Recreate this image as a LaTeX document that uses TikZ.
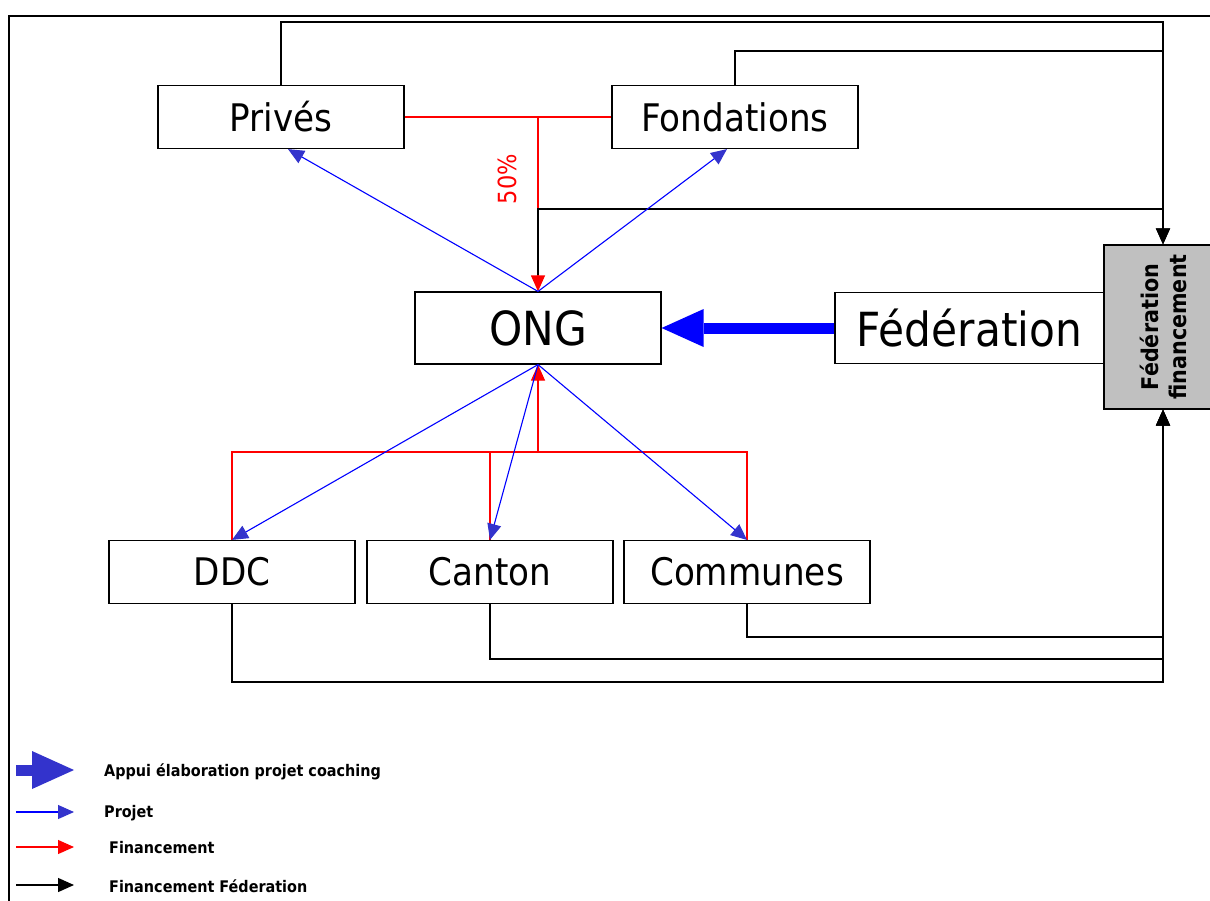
\documentclass[tikz,border=0pt]{standalone}
\usepackage{fontspec}
\setmainfont{DejaVu Sans}[FakeStretch=0.9]
\usetikzlibrary{arrows.meta}
\definecolor{bleutete}{RGB}{51,51,204}
\definecolor{grisboite}{RGB}{192,192,192}

\begin{document}
\begin{tikzpicture}[x=1pt,y=-1pt,
	acteur/.style={draw, line width=1.2pt, fill=white, minimum width=246pt, minimum height=63pt, inner sep=0pt, font=\fontsize{38}{40}\selectfont},
	grand/.style={font=\fontsize{47}{50}\selectfont},
	projet/.style={blue, line width=1.1pt, -{Triangle[length=16pt,width=14pt,color=bleutete]}},
	pointe/.style={-{Triangle[length=16pt,width=14pt]}},
	finance/.style={red, line width=1.2pt},
	finfed/.style={black, line width=1.3pt},
	financefl/.style={finance, pointe},
	finfedfl/.style={finfed, pointe},
	appui/.style={line width=11pt, -{Triangle[length=42pt,width=38pt,line width=0pt]}},
	legende/.style={anchor=west, inner sep=0pt, font=\fontsize{16}{18}\selectfont\bfseries}]
	\clip (0,0) rectangle (1210,900);
	\draw[line width=1.5pt] (9,920) -- (9,16) -- (1230,16);

	\node[acteur] (prives) at (281,117) {Privés};
	\node[acteur] (fondations) at (735,117) {Fondations};
	\node[acteur, grand, minimum height=72pt] (ong) at (538,328) {ONG};
	\node[acteur, grand, minimum width=269pt, minimum height=71pt] (federation) at (969.5,328) {Fédération};
	\node[draw, line width=1.2pt, fill=grisboite, minimum width=118pt, minimum height=164pt] (fedfin) at (1163,327) {};
	\node[rotate=90, align=center, inner sep=0pt, font=\fontsize{23}{28}\selectfont\bfseries] at (fedfin.center) {Fédération\\financement};
	\node[acteur] (ddc) at (232,572) {DDC};
	\node[acteur] (canton) at (490,572) {Canton};
	\node[acteur] (communes) at (747,572) {Communes};

	% financement federation
	\draw[finfedfl] (prives.north) -- (prives.north |- 0,22) -| (fedfin.north);
	\draw[finfedfl] (fondations.north) -- (fondations.north |- 0,51) -| (fedfin.north);
	\draw[finfedfl] (communes.south) -- (communes.south |- 0,637) -| (fedfin.south);
	\draw[finfedfl] (canton.south) -- (canton.south |- 0,659) -| (fedfin.south);
	\draw[finfedfl] (ddc.south) -- (ddc.south |- 0,682) -| (fedfin.south);

	% financement
	\draw[finance] (prives.east) -- (fondations.west);
	\coordinate (rhaut) at (538,117);
	\draw[financefl] (rhaut) -- (ong.north);
	\draw[finfed, shorten >=16pt] (fedfin.north |- 0,209) -| (ong.north);
	\node[rotate=90, red, font=\fontsize{25}{25}\selectfont] at (507,179) {50\%};
	\coordinate (rbas) at (538,452);
	\draw[finance] (ddc.north) -- (ddc.north |- rbas) -- (communes.north |- rbas) -- (communes.north);
	\draw[finance] (canton.north) -- (canton.north |- rbas);
	\draw[financefl] (rbas) -- (ong.south);

	% projet
	\draw[projet] (ong.north) -- ([xshift=7pt]prives.south);
	\draw[projet] (ong.north) -- ([xshift=-8pt]fondations.south);
	\draw[projet] (ong.south) -- (ddc.north);
	\draw[projet] (ong.south) -- (canton.north);
	\draw[projet] (ong.south) -- (communes.north);

	% appui
	\draw[appui, blue] (federation.west) -- (ong.east);

	% legende
	\draw[appui, bleutete] (16,770) -- (74,770);
	\node[legende] at (104,772) {Appui élaboration projet coaching};
	\foreach \y/\sty/\txt in {812/projet/Projet, 847/financefl/\ Financement, 885/finfedfl/\ Financement Féderation}
	{
		\draw[\sty] (16,\y) -- (74,\y);
		\node[legende] at (104,\y+1) {\txt};
	}
\end{tikzpicture}
\end{document}
